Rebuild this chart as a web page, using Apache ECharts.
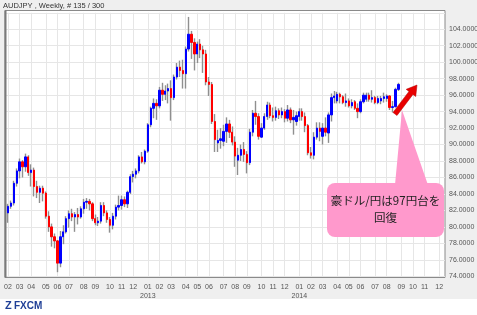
<!DOCTYPE html>
<html><head><meta charset="utf-8">
<script src="https://cdn.jsdelivr.net/npm/echarts@6/dist/echarts.min.js"></script>
<style>html,body{margin:0;padding:0;background:#fff}#c{width:477px;height:315px}</style>
</head><body><div id="c"></div>
<script>
// Weekly categories (Sundays) shown on the x axis
const firstWeek = '2012-01-29';
const weekCount = 152;
const firstCandleIndex = 1;

// AUD/JPY weekly OHLC
const openV = [
81.7,82.5,82.9,85.3,86.8,87.9,87.3,88.5,86.6,86.9,
84.9,84.2,84.7,84.1,81.3,80.0,78.8,78.3,75.6,78.8,
79.4,81.0,81.6,81.2,81.5,81.2,82.2,83.0,83.1,82.8,
81.0,80.5,80.7,82.6,81.7,80.9,80.2,81.3,82.4,82.6,
83.3,82.8,84.2,86.1,86.4,86.8,88.5,87.9,89.2,92.4,
94.4,95.0,94.7,96.6,96.1,96.5,96.8,95.7,98.2,99.4,
99.0,98.6,101.6,103.4,102.4,101.0,102.2,101.5,101.0,97.6,
97.3,92.8,90.2,90.5,90.4,91.6,92.5,91.5,90.3,88.1,
88.7,89.4,88.8,87.8,91.5,93.8,93.4,90.9,92.0,93.4,
94.8,93.5,93.3,94.1,93.6,94.0,93.2,94.2,93.0,92.8,
93.4,94.0,93.4,92.3,89.0,88.7,90.9,92.0,91.0,92.0,
91.4,93.6,95.7,95.3,96.1,95.8,95.1,95.3,94.7,95.2,
94.4,94.0,95.2,95.5,96.0,95.5,95.7,95.1,95.3,95.6,
95.6,95.9,94.5,94.6,96.7];
const closeV = [
82.5,82.9,85.3,86.8,87.9,87.3,88.5,86.6,86.9,84.9,
84.2,84.7,84.1,81.3,80.0,78.8,78.3,75.6,78.8,79.4,
81.0,81.6,81.2,81.5,81.2,82.2,83.0,83.1,82.8,81.0,
80.5,80.7,82.6,81.7,80.9,80.2,81.3,82.4,82.6,83.3,
82.8,84.2,86.1,86.4,86.8,88.5,87.9,89.2,92.4,94.4,
95.0,94.7,96.6,96.1,96.5,96.8,95.7,98.2,99.4,99.0,
98.6,101.6,103.4,102.4,101.0,102.2,101.5,101.0,97.6,97.3,
92.8,90.6,90.5,90.7,91.6,92.5,91.5,90.3,88.6,88.7,
89.4,88.8,87.8,91.5,93.8,93.4,91.0,92.0,93.4,94.8,
93.5,93.3,94.1,93.6,94.0,93.2,94.2,93.0,93.3,93.5,
94.0,93.4,92.3,89.0,88.7,90.9,92.0,91.6,92.0,91.5,
93.6,95.7,95.9,96.1,95.8,95.1,95.3,94.7,95.1,94.4,
94.0,95.2,96.0,96.0,95.5,95.7,95.1,95.6,95.6,95.8,
95.9,94.5,94.6,96.7,97.3];
const lowV = [
80.5,82.2,82.6,84.9,85.9,86.0,86.7,86.2,84.9,83.7,
83.5,82.9,83.1,81.0,79.4,77.6,77.4,74.5,75.1,77.9,
79.2,79.9,80.7,79.4,80.3,81.0,81.6,82.2,82.0,80.7,
80.2,80.1,80.4,81.3,80.5,79.3,79.7,80.9,82.0,82.1,
82.4,82.3,84.0,85.4,85.9,86.5,87.7,87.6,89.0,92.1,
93.2,93.0,94.4,95.3,95.4,95.0,92.9,95.4,97.9,98.2,
96.8,96.8,101.3,100.4,99.0,99.9,100.5,98.7,97.2,95.9,
92.5,89.1,89.1,89.5,89.8,90.2,90.8,89.9,87.3,86.3,
88.0,87.9,86.5,87.5,91.0,92.4,90.6,90.8,91.8,93.0,
93.2,92.8,92.9,93.1,93.2,92.7,92.8,92.6,91.2,92.3,
92.9,92.9,91.5,88.7,88.3,88.2,90.6,90.4,90.0,91.0,
90.2,92.8,95.0,95.0,95.0,94.9,94.6,94.5,94.4,94.2,
93.2,93.8,95.0,95.2,95.2,95.1,94.9,94.9,94.9,95.1,
95.2,94.2,93.9,94.5,96.5];
const highV = [
82.8,83.2,85.6,87.1,88.3,88.1,88.9,88.7,87.6,87.2,
85.6,85.0,85.0,84.3,81.9,80.4,79.2,78.4,79.5,80.2,
81.3,82.0,82.2,81.8,82.3,82.5,83.4,83.5,83.4,83.0,
81.5,81.2,83.0,83.0,82.0,81.2,81.7,82.7,83.8,83.8,
83.7,84.4,86.4,86.8,87.1,88.7,89.1,89.4,92.6,94.6,
95.6,95.5,97.0,97.5,97.2,97.4,97.8,98.5,99.9,100.2,
100.3,101.9,105.5,103.8,102.9,102.5,102.8,102.0,101.5,98.2,
97.6,93.7,91.8,92.0,92.4,93.3,93.0,92.2,91.0,89.6,
90.0,90.3,89.2,91.9,94.2,95.3,93.8,92.6,93.8,95.2,
95.1,94.5,94.6,94.4,94.5,94.3,94.8,94.5,94.2,94.0,
94.4,94.4,93.9,92.5,89.7,91.5,92.7,92.7,92.6,93.3,
93.9,96.2,96.5,96.4,96.3,96.0,96.2,95.6,95.5,95.4,
95.0,95.5,96.3,96.3,96.3,96.6,95.9,95.9,95.9,96.3,
96.1,96.0,95.3,96.9,97.5];

const yMin = 74, yMax = 106, yStep = 2;
const titleText = 'AUDJPY , Weekly, # 135 / 300';
const calloutText = '豪ドル/円は97円台を\n回復';

// build categories
const cats = [];
const t0 = Date.parse(firstWeek + 'T00:00:00Z');
for (let k = 0; k < weekCount; k++) {
  cats.push(new Date(t0 + k * 7 * 86400000).toISOString().slice(0, 10));
}
const isMonthStart = (i) => i > 0 && cats[i].slice(5, 7) !== cats[i - 1].slice(5, 7);

const wickData = [], bodyData = [];
for (let i = 0; i < openV.length; i++) {
  const x = i + firstCandleIndex;
  wickData.push([x, openV[i], closeV[i], lowV[i], highV[i]]);
  bodyData.push([x, openV[i], closeV[i], Math.min(openV[i], closeV[i]), Math.max(openV[i], closeV[i])]);
}

// arrow polygon
function arrowPts(tx, ty, hx, hy, sw, hw, hl) {
  const dx = hx - tx, dy = hy - ty, L = Math.hypot(dx, dy);
  const ux = dx / L, uy = dy / L, px = -uy, py = ux;
  const bx = hx - ux * hl, by = hy - uy * hl;
  return [
    [tx + px * sw / 2, ty + py * sw / 2], [bx + px * sw / 2, by + py * sw / 2],
    [bx + px * hw / 2, by + py * hw / 2], [hx, hy],
    [bx - px * hw / 2, by - py * hw / 2], [bx - px * sw / 2, by - py * sw / 2],
    [tx - px * sw / 2, ty - py * sw / 2]
  ];
}

const chart = echarts.init(document.getElementById('c'), null, { renderer: 'canvas' });
const gridLine = { color: '#e6e6e6', width: 1 };
chart.setOption({
  animation: false,
  backgroundColor: '#efefef',
  grid: [
    { left: 5, right: 32, top: 10.5, bottom: 37.5, show: true, backgroundColor: '#ffffff', borderColor: '#8a8a8a', borderWidth: 1, containLabel: false, outerBoundsMode: 'none' },
    { left: 5, right: 32, top: 12.8, bottom: 38.7, containLabel: false, outerBoundsMode: 'none' }
  ],
  xAxis: [
    { gridIndex: 0, type: 'value', show: false, min: 0, max: 1 },
    {
      gridIndex: 1, type: 'category', data: cats, boundaryGap: false,
      axisLine: { show: false }, axisTick: { show: false, interval: (i) => isMonthStart(i) },
      splitLine: { show: true, interval: (i) => isMonthStart(i), lineStyle: gridLine },
      axisLabel: {
        interval: (i) => isMonthStart(i), margin: 6,
        color: '#555', fontSize: 7, fontFamily: 'Liberation Sans', lineHeight: 9,
        formatter: (v) => { const m = v.slice(5, 7); return m === '01' ? m + '\n' + v.slice(0, 4) : m; }
      }
    }
  ],
  yAxis: [
    { gridIndex: 0, type: 'value', show: false, min: 0, max: 1 },
    {
      gridIndex: 1, type: 'value', position: 'right', min: yMin, max: yMax, interval: yStep,
      axisLine: { show: false }, axisTick: { show: false },
      splitLine: { show: true, lineStyle: gridLine },
      axisLabel: { color: '#555', fontSize: 7, fontFamily: 'Liberation Sans', margin: 4, showMaxLabel: false, formatter: (v) => v.toFixed(4) }
    }
  ],
  series: [
    {
      type: 'candlestick', xAxisIndex: 1, yAxisIndex: 1, data: wickData,
      encode: { x: 0, y: [1, 2, 3, 4] }, barWidth: 1,
      itemStyle: { color: '#8f8f8f', color0: '#8f8f8f', borderColor: '#8f8f8f', borderColor0: '#8f8f8f', borderColorDoji: '#8f8f8f', borderWidth: 1.4 }
    },
    {
      type: 'candlestick', xAxisIndex: 1, yAxisIndex: 1, data: bodyData,
      encode: { x: 0, y: [1, 2, 3, 4] }, barWidth: 1.8,
      itemStyle: { color: '#0000ff', color0: '#ff0000', borderColor: '#0000ff', borderColor0: '#ff0000', borderColorDoji: '#8f8f8f', borderWidth: 1 }
    }
  ],
  graphic: [
    { type: 'rect', shape: { x: 0, y: 299, width: 477, height: 16 }, style: { fill: '#fff' }, z: 1 },
    { type: 'line', shape: { x1: 5.5, y1: 10.5, x2: 5.5, y2: 277.5 }, style: { stroke: '#7a7a7a', lineWidth: 2 }, z: 50 },
    { type: 'text', x: 3, y: 2, style: { text: titleText, fontSize: 7.5, fontFamily: 'Liberation Sans', fill: '#333' }, z: 50 },
    { type: 'text', x: 5, y: 300, style: { text: 'Z', fontSize: 11, fontWeight: 'bold', fontFamily: 'Liberation Sans', fill: '#1f3f96' }, z: 50 },
    { type: 'text', x: 14, y: 301, style: { text: 'FXCM', fontSize: 10, fontWeight: 'bold', fontFamily: 'Liberation Sans', fill: '#1f3f96' }, z: 50 },
    { type: 'polygon', shape: { points: [[395, 185], [402, 110], [428, 185]] }, style: { fill: '#ff99cc' }, z: 100 },
    { type: 'rect', shape: { x: 327, y: 183, width: 117, height: 54, r: 8 }, style: { fill: '#ff99cc' }, z: 100 },
    { type: 'text', x: 385.5, y: 209, style: { text: calloutText, fontSize: 11.5, lineHeight: 17, fontFamily: 'Noto Sans CJK JP', fill: '#222', align: 'center', verticalAlign: 'middle' }, z: 101 },
    { type: 'polygon', shape: { points: arrowPts(395, 114, 417, 85, 5, 12, 10) }, style: { fill: '#e80000', stroke: '#b00000', lineWidth: 0.5 }, z: 100 }
  ]
});
</script></body></html>
